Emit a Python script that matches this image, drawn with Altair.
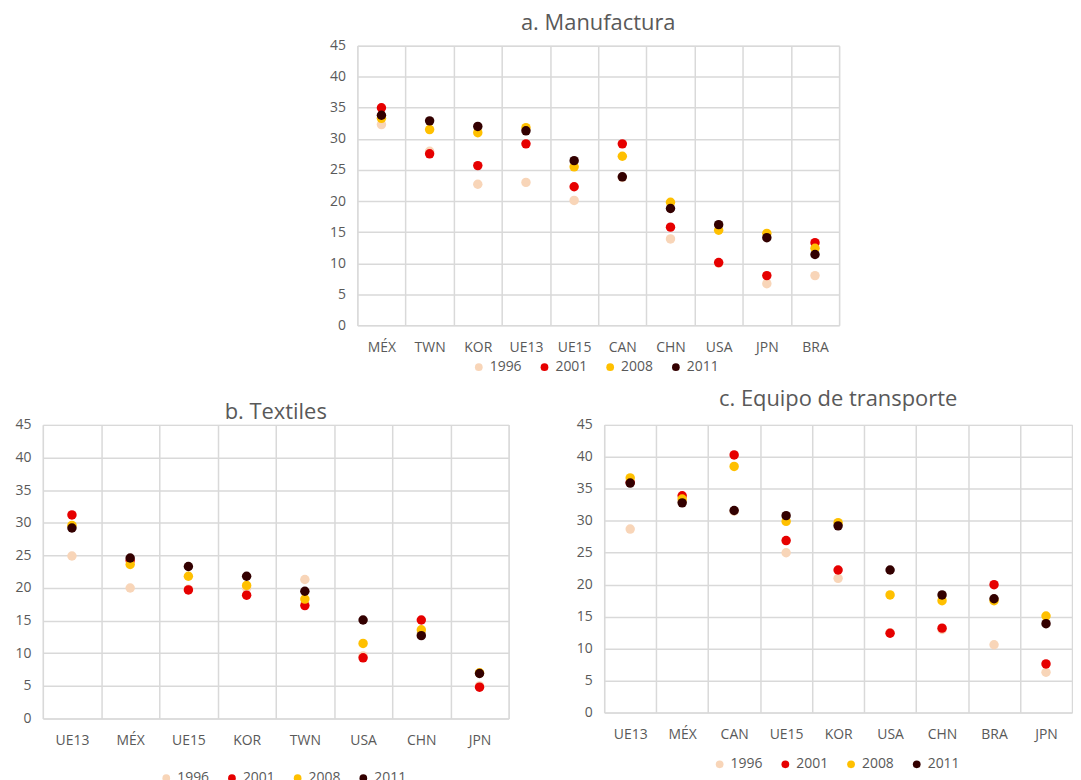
import altair as alt
import pandas as pd

years = ["1996", "2001", "2008", "2011"]
colors = ["#F8D5B8", "#E60000", "#FFC000", "#330000"]

cats_a = ["MÉX", "TWN", "KOR", "UE13", "UE15", "CAN", "CHN", "USA", "JPN", "BRA"]
a_1996 = [32.3, 28.0, 22.7, 23.0, 20.1, 23.8, 13.9, 10.0, 6.7, 8.0]
a_2001 = [35.0, 27.6, 25.7, 29.2, 22.3, 29.2, 15.8, 10.1, 8.0, 13.3]
a_2008 = [33.3, 31.5, 31.0, 31.8, 25.5, 27.2, 19.8, 15.3, 14.8, 12.4]
a_2011 = [33.8, 32.9, 32.0, 31.3, 26.5, 23.9, 18.8, 16.2, 14.1, 11.4]

cats_b = ["UE13", "MÉX", "UE15", "KOR", "TWN", "USA", "CHN", "JPN"]
b_1996 = [24.9, 20.0, 19.8, 20.0, 21.3, 9.6, 13.0, 5.0]
b_2001 = [31.2, 24.2, 19.7, 18.9, 17.3, 9.3, 15.1, 4.8]
b_2008 = [29.6, 23.6, 21.8, 20.4, 18.3, 11.5, 13.6, 7.0]
b_2011 = [29.2, 24.6, 23.3, 21.8, 19.5, 15.1, 12.7, 6.9]

cats_c = ["UE13", "MÉX", "CAN", "UE15", "KOR", "USA", "CHN", "BRA", "JPN"]
c_1996 = [28.7, 33.0, 31.5, 25.0, 21.0, 12.5, 13.0, 10.6, 6.3]
c_2001 = [36.0, 33.9, 40.3, 26.9, 22.3, 12.4, 13.2, 20.0, 7.6]
c_2008 = [36.7, 33.4, 38.5, 29.9, 29.7, 18.4, 17.5, 17.5, 15.1]
c_2011 = [35.9, 32.8, 31.6, 30.8, 29.2, 22.3, 18.4, 17.8, 13.9]

FONT = "Open Sans"
GRAY = "#595959"
GRID = "#D9D9D9"


def panel(cats, series, title, w, h, toff, tdy, lx, ly):
    rows = []
    for k, (yr, vals) in enumerate(zip(years, series)):
        for c, v in zip(cats, vals):
            rows.append({"País": c, "Año": yr, "Valor": v, "orden": k})
    df = pd.DataFrame(rows)
    return (
        alt.Chart(
            df,
            title=alt.Title(title, offset=toff, dy=tdy, fontSize=22, font=FONT,
                            fontWeight="normal", color=GRAY, anchor="middle"),
        )
        .mark_circle(size=90, opacity=1)
        .encode(
            x=alt.X("País:N", sort=cats,
                    scale=alt.Scale(type="band", paddingInner=0, paddingOuter=0),
                    axis=alt.Axis(title=None, tickBand="extent", grid=True,
                                  ticks=False, domain=False, labelPadding=15,
                                  labelAngle=0)),
            y=alt.Y("Valor:Q", scale=alt.Scale(domain=[0, 45], nice=False),
                    axis=alt.Axis(title=None, values=list(range(0, 50, 5)),
                                  grid=True, ticks=False, domain=False,
                                  labelPadding=12)),
            color=alt.Color("Año:N", scale=alt.Scale(domain=years, range=colors),
                            legend=alt.Legend(title=None, orient="none",
                                              direction="horizontal",
                                              legendX=lx, legendY=ly,
                                              symbolType="circle")),
            order=alt.Order("orden:Q"),
        )
        .properties(width=w, height=h)
    )


pa = panel(cats_a, [a_1996, a_2001, a_2008, a_2011], "a. Manufactura",
           484, 281, 4, 0, 115, 316)
pb = panel(cats_b, [b_1996, b_2001, b_2008, b_2011], "b. Textiles",
           468, 295, 0, 6, 117, 348)
pc = panel(cats_c, [c_1996, c_2001, c_2008, c_2011], "c. Equipo de transporte",
           470, 289, 7, 0, 109, 334)

spacer = (
    alt.Chart(pd.DataFrame({"s": [0]}))
    .mark_point(opacity=0)
    .encode(x=alt.value(0), y=alt.value(0))
    .properties(width=287, height=281, view=alt.ViewBackground(strokeOpacity=0))
)

top = alt.hconcat(spacer, pa, spacing=0).resolve_scale(
    color="independent").resolve_legend(color="independent")
bottom = alt.hconcat(pb, pc, spacing=66).resolve_scale(
    color="independent").resolve_legend(color="independent")

chart = (
    alt.vconcat(top, bottom, spacing=12)
    .resolve_scale(color="independent")
    .resolve_legend(color="independent")
    .properties(padding={"left": 6, "top": 1, "right": 0, "bottom": 0})
    .configure_view(stroke=GRID, strokeWidth=1)
    .configure_axis(gridColor=GRID, gridWidth=1.5, labelColor=GRAY,
                    labelFont=FONT, labelFontSize=14)
    .configure_legend(labelColor=GRAY, labelFont=FONT, labelFontSize=14,
                      symbolSize=60, symbolStrokeWidth=0, columnPadding=15,
                      labelOffset=4)
)

chart.save("out.html", embed_options={"renderer": "svg", "actions": False})
